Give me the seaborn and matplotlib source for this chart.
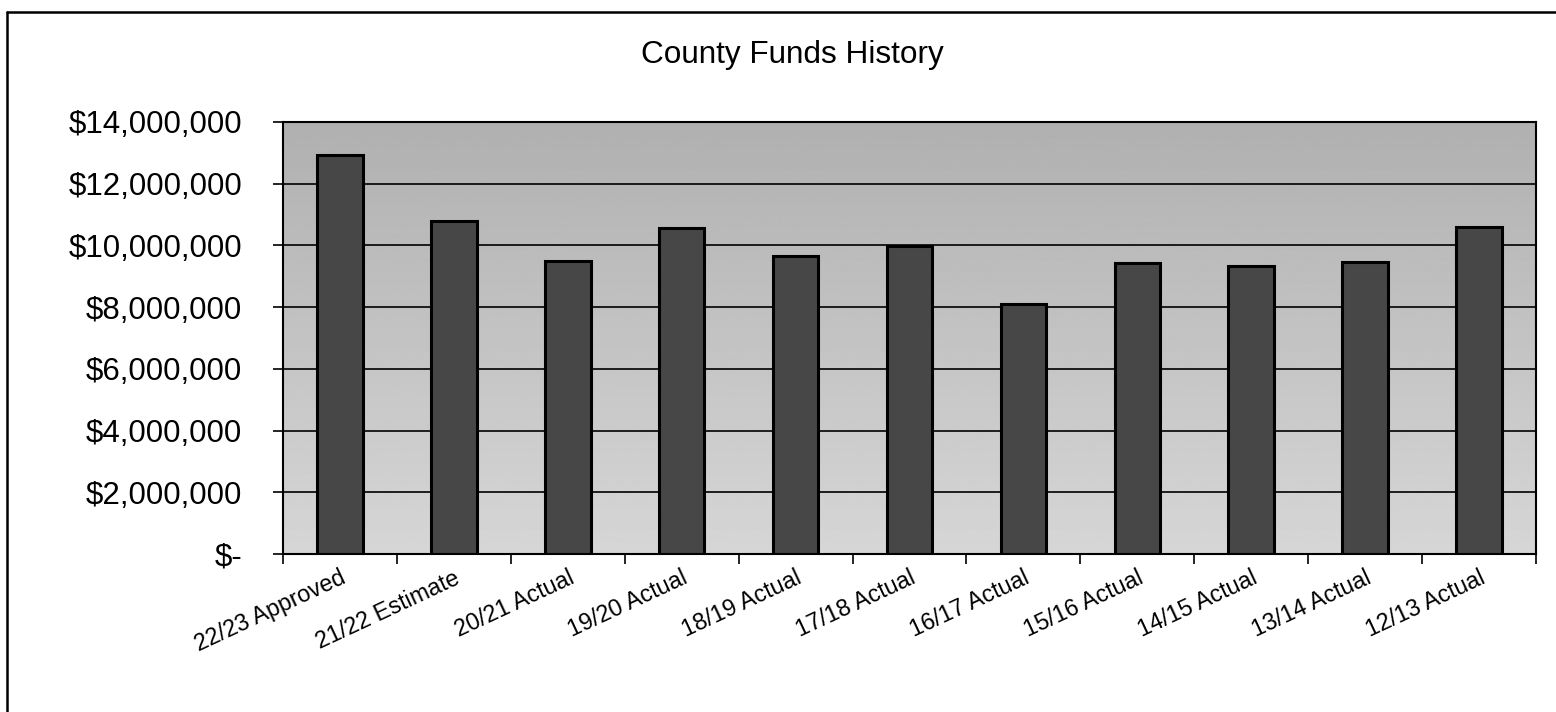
import numpy as np
import pandas as pd
import matplotlib
matplotlib.use("Agg")
import matplotlib.pyplot as plt
from matplotlib.lines import Line2D
from matplotlib.ticker import FuncFormatter, FixedLocator
import seaborn as sns

categories = ["22/23 Approved", "21/22 Estimate", "20/21 Actual", "19/20 Actual",
              "18/19 Actual", "17/18 Actual", "16/17 Actual", "15/16 Actual",
              "14/15 Actual", "13/14 Actual", "12/13 Actual"]
funds = [12930000, 10780000, 9490000, 10560000, 9670000, 9970000,
         8090000, 9440000, 9320000, 9470000, 10590000]
y_ticks = [0, 2000000, 4000000, 6000000, 8000000, 10000000, 12000000, 14000000]
title = "County Funds History"

sns.set_theme(style="white")
plt.rcParams['font.family'] = ['Liberation Sans', 'DejaVu Sans']

df = pd.DataFrame({"period": categories, "funds": funds})

fig = plt.figure(figsize=(15.56, 7.12), dpi=100)
ax = fig.add_axes([283/1556, 1-554/712, (1536-283)/1556, (554-122)/712])

sns.barplot(data=df, x="period", y="funds", order=categories, color="#474747",
            saturation=1, width=0.4, edgecolor="black", linewidth=2.2, ax=ax, zorder=2)

# gradient plot-area background
grad = np.linspace(0.84, 0.69, 256)[:, None]
ax.imshow(grad, extent=[0, 1, 0, 1], transform=ax.transAxes, aspect="auto",
          cmap="gray", vmin=0, vmax=1, origin="lower", zorder=0, interpolation="bilinear")

ax.set_xlim(-0.5, len(categories) - 0.5)
ax.set_ylim(0, 14000000)
ax.set_yticks(y_ticks)
ax.yaxis.set_major_formatter(FuncFormatter(lambda v, p: "$-" if v == 0 else f"${v:,.0f}"))
ax.set_axisbelow(True)
ax.yaxis.grid(True, color="black", linewidth=1.2, zorder=1)
ax.xaxis.grid(False)

ax.tick_params(axis="y", which="major", left=True, length=7.2, width=1.2, color="black",
               pad=22, labelsize=22.5, labelcolor="black")
ax.tick_params(axis="x", which="major", bottom=True, length=0, pad=9,
               labelsize=16.8, labelcolor="black")
ax.xaxis.set_minor_locator(FixedLocator(np.arange(-0.5, len(categories), 1.0)))
ax.tick_params(axis="x", which="minor", bottom=True, length=7, width=1.2, color="black")
for lbl in ax.get_xticklabels():
    lbl.set_rotation(25)
    lbl.set_ha("right")
    lbl.set_va("top")
    lbl.set_rotation_mode("anchor")

for s in ax.spines.values():
    s.set_visible(True)
    s.set_color("black")
    s.set_linewidth(1.5)

ax.set_xlabel("")
ax.set_ylabel("")

fig.text(792/1556, 1-55/712, title, ha="center", va="center", fontsize=22.7, color="black")

# outer chart frame (top and left edges visible)
fig.add_artist(Line2D([7/1556, 7/1556], [0, 1-12/712], transform=fig.transFigure,
                      color="black", linewidth=1.8))
fig.add_artist(Line2D([7/1556, 1], [1-12/712, 1-12/712], transform=fig.transFigure,
                      color="black", linewidth=1.8))

fig.savefig("out.png", dpi=100, facecolor="white")
